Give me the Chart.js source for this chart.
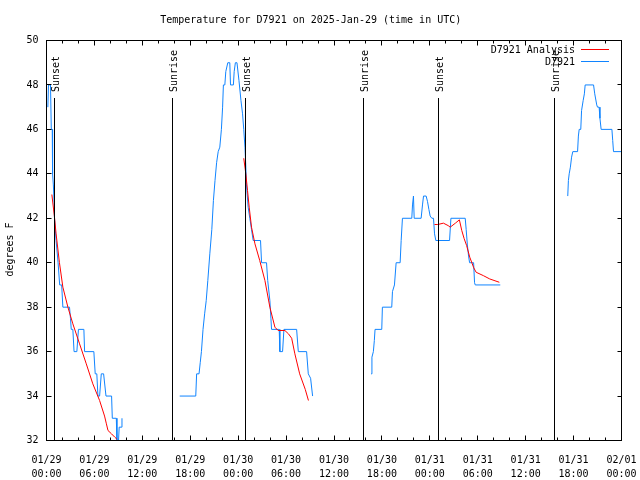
<!DOCTYPE html>
<html><head><meta charset="utf-8">
<script src="https://cdn.jsdelivr.net/npm/chart.js@4"></script>
<style>html,body{margin:0;padding:0;background:#fff}</style>
</head><body>
<canvas id="c" width="640" height="480"></canvas>
<script>
// ---------------- data ----------------
const titleText = 'Temperature for D7921 on 2025-Jan-29 (time in UTC)';
const yAxisLabel = 'degrees F';
const obsLabel = 'D7921';
const anaLabel = 'D7921 Analysis';

// x axis: hours since 2025-01-29 00:00 UTC
const xMin = 0, xMax = 72;
const majorTickHours = [0, 6, 12, 18, 24, 30, 36, 42, 48, 54, 60, 66, 72];
const majorTickDates = ['01/29','01/29','01/29','01/29','01/30','01/30','01/30','01/30','01/31','01/31','01/31','01/31','02/01'];
const majorTickTimes = ['00:00','06:00','12:00','18:00','00:00','06:00','12:00','18:00','00:00','06:00','12:00','18:00','00:00'];
const minorTickStep = 2;

const yMin = 32, yMax = 50, yStep = 2;

const sunTimes  = [0.95, 15.73, 24.96, 39.65, 49.04, 63.66];
const sunLabels = ['Sunset','Sunrise','Sunset','Sunrise','Sunset','Sunrise'];

// observed temperature (blue), null = gap
const obsTimes = [
 0.17,0.25,0.5,0.6,0.72,0.76,0.86,0.95,1.0,1.2,1.45,1.65,1.9,2.05,2.88,3.0,3.1,3.3,3.45,3.8,4.0,4.68,4.77,5.93,6.1,6.3,6.44,6.65,6.86,7.15,7.45,8.15,8.24,8.74,8.82,9.02,9.1,9.35,9.45,
 12,
 16.68,18.69,18.8,19.1,19.25,19.4,19.6,19.8,20.0,20.2,20.45,20.7,20.9,21.1,21.3,21.5,21.7,21.9,22.05,22.15,22.33,22.45,22.7,22.95,23.04,23.4,23.5,23.65,23.85,24.1,24.35,24.55,24.7,24.85,24.96,25.04,25.25,25.46,25.67,25.88,26.8,26.93,27.55,27.7,27.97,28.1,28.18,29.14,29.22,29.56,29.73,31.32,31.53,32.57,32.78,33.07,33.32,
 36,
 40.64,40.75,40.93,41.05,41.14,41.98,42.06,43.23,43.32,43.57,43.78,44.28,44.41,44.57,45.74,45.83,45.95,46.04,46.91,47.08,47.21,47.54,47.71,47.88,48.04,48.25,48.46,48.59,48.75,50.47,50.64,52.43,52.55,52.7,52.85,52.98,53.48,53.6,53.69,56.82,
 60,
 65.27,65.35,65.45,65.6,65.75,65.9,66.5,66.6,66.7,66.9,67.0,67.2,67.35,67.45,68.5,68.65,68.9,69.0,69.2,69.3,69.45,70.8,70.9,71.0,72
];
const obsTemps = [
 47,48,48,46,46,44,43.5,42.7,42,41,40,39,39,38,38,37.5,37,37,36,36,37,37,36,36,35,35,34,34,35,35,34,34,33,33,32,32,32.6,32.6,33,
 null,
 34,34,35,35,35.5,36,37,37.7,38.3,39.2,40.4,41.5,42.8,43.7,44.5,45,45.2,46,47,48,48,48.6,49,49,48,48,48.6,49,49,48.2,47.3,46.7,46,45.2,44.3,43.5,42.5,42,41.5,41,41,40,40,39.2,38.3,37.5,37,37,36,36,37,37,36,36,35,34.8,34,
 null,
 35,35.75,36,36.5,37,37,38,38,38.7,39,40,40,41,42,42,42.6,43,42,42,42.6,43,43,42.75,42.4,42.1,42,42,41.3,41,41,42,42,41.5,40.8,40.3,40,40,39.1,39,39,
 null,
 43,43.7,44,44.3,44.75,45,45,45.7,46,46,46.85,47.3,47.6,48,48,47.6,47.1,47,47,46.5,46,46,45.5,45,45
];

// analysis temperature (red), null = gap
const anaTimes = [
 0.67,1.0,1.2,1.62,2.05,2.68,3.3,4.14,4.98,5.8,6.65,7.27,7.5,7.7,8.14,8.55,8.84,
 12,
 24.7,24.96,25.17,25.38,25.67,26.1,26.7,27.35,27.97,28.6,29.0,29.85,30.3,30.7,31.1,31.7,32.4,32.8,
 36,
 48.59,49.0,49.7,50.3,50.55,51.2,51.7,52.0,52.3,52.6,53.0,53.5,53.8,54.7,55.5,56.7
];
const anaTemps = [
 43.07,42.05,41.3,40,38.9,38,37.25,36.35,35.45,34.55,33.8,33.1,32.75,32.45,32.3,32.15,32.05,
 null,
 44.7,44,43.25,42.5,41.6,40.85,40.1,39.2,38,37.1,36.95,36.95,36.8,36.6,35.9,35,34.3,33.8,
 null,
 41.72,41.72,41.78,41.67,41.6,41.78,41.93,41.45,41.08,40.78,40.25,39.77,39.57,39.42,39.27,39.12
];

// ---------------- chart ----------------
const FONT = 'DejaVu Sans Mono';
const toXY = (ts, vs) => ts.map((t, i) => ({x: t, y: vs[i]}));

const decor = {
  id: 'decor',
  afterDatasetsDraw(chart) {
    const {ctx, chartArea: a, scales: {x, y}} = chart;
    ctx.save();
    ctx.strokeStyle = '#000';
    ctx.fillStyle = '#000';
    ctx.lineWidth = 1;
    ctx.font = '10px "' + FONT + '"';
    // sunrise / sunset lines
    sunTimes.forEach((t, i) => {
      const px = Math.floor(x.getPixelForValue(t)) + 0.5;
      ctx.beginPath();
      ctx.moveTo(px, 98);
      ctx.lineTo(px, a.bottom);
      ctx.stroke();
      ctx.save();
      ctx.translate(px + 1.5, 92);
      ctx.rotate(-Math.PI / 2);
      ctx.textAlign = 'left';
      ctx.textBaseline = 'middle';
      ctx.fillText(sunLabels[i], 0, 0);
      ctx.restore();
    });
    // frame
    ctx.strokeRect(a.left, a.top, a.right - a.left, a.bottom - a.top);
    // x ticks (inward, top and bottom)
    for (let h = xMin; h <= xMax; h += minorTickStep) {
      const px = Math.floor(x.getPixelForValue(h)) + 0.5;
      const len = majorTickHours.includes(h) ? 5 : 3;
      ctx.beginPath();
      ctx.moveTo(px, a.bottom); ctx.lineTo(px, a.bottom - len);
      ctx.moveTo(px, a.top); ctx.lineTo(px, a.top + len);
      ctx.stroke();
    }
    // y ticks
    for (let v = yMin; v <= yMax; v += yStep) {
      const py = Math.floor(y.getPixelForValue(v)) + 0.5;
      ctx.beginPath();
      ctx.moveTo(a.left, py); ctx.lineTo(a.left + 5, py);
      ctx.moveTo(a.right, py); ctx.lineTo(a.right - 4, py);
      ctx.stroke();
    }
    // y axis label
    ctx.save();
    ctx.translate(10, 249.5);
    ctx.rotate(-Math.PI / 2);
    ctx.textAlign = 'center';
    ctx.textBaseline = 'middle';
    ctx.fillText(yAxisLabel, 0, 0);
    ctx.restore();
    // legend
    const rows = [50, 62];
    [chart.data.datasets[0], chart.data.datasets[1]].forEach((ds, i) => {
      ctx.textAlign = 'right';
      ctx.textBaseline = 'middle';
      ctx.fillStyle = '#000';
      ctx.fillText(ds.label, 575, rows[i]);
      ctx.strokeStyle = ds.borderColor;
      ctx.beginPath();
      ctx.moveTo(581, rows[i] - 0.5);
      ctx.lineTo(609, rows[i] - 0.5);
      ctx.stroke();
    });
    ctx.restore();
  }
};

new Chart(document.getElementById('c'), {
  type: 'line',
  data: {
    datasets: [
      {label: anaLabel, data: toXY(anaTimes, anaTemps), borderColor: '#ff0000', borderWidth: 1, pointRadius: 0, tension: 0, spanGaps: false, fill: false},
      {label: obsLabel, data: toXY(obsTimes, obsTemps), borderColor: '#1084ff', borderWidth: 1, pointRadius: 0, tension: 0, spanGaps: false, fill: false}
    ]
  },
  options: {
    responsive: false,
    animation: false,
    devicePixelRatio: 1,
    layout: {padding: {left: 0, right: 18.5, top: 0, bottom: 0}},
    plugins: {
      legend: {display: false},
      tooltip: {enabled: false},
      title: {display: true, text: titleText, color: '#000',
              font: {family: FONT, size: 10, weight: 'normal', lineHeight: 1.2},
              padding: {top: 14, bottom: 14.5}}
    },
    scales: {
      x: {
        type: 'linear', position: 'bottom', min: xMin, max: xMax,
        grid: {display: false, drawTicks: false}, border: {display: false},
        afterBuildTicks: s => {
          const t = [];
          for (let h = xMin; h <= xMax; h += minorTickStep) t.push({value: h});
          s.ticks = t;
        },
        afterFit: s => { s.height = 39.5; s.paddingLeft = 0; s.paddingRight = 0; },
        ticks: {
          autoSkip: false, maxRotation: 0, minRotation: 0, padding: 13, color: '#000',
          font: {family: FONT, size: 10, lineHeight: 1.4},
          callback: v => {
            const i = majorTickHours.indexOf(v);
            return i < 0 ? '' : [majorTickDates[i], majorTickTimes[i]];
          }
        }
      },
      y: {
        min: yMin, max: yMax,
        grid: {display: false, drawTicks: false}, border: {display: false},
        afterFit: s => { s.width = 46.5; s.paddingTop = 0; s.paddingBottom = 0; },
        ticks: {stepSize: yStep, padding: 8, color: '#000', font: {family: FONT, size: 10}}
      }
    }
  },
  plugins: [decor]
});
</script>
</body></html>
